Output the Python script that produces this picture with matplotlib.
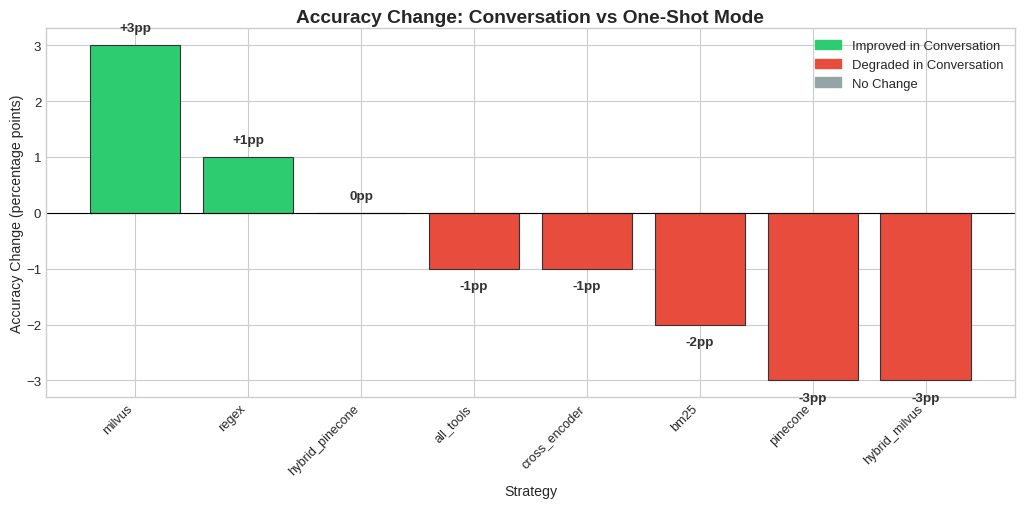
import matplotlib.pyplot as plt
from matplotlib.patches import Patch

strategies = ['milvus', 'regex', 'hybrid_pinecone', 'all_tools', 'cross_encoder',
              'bm25', 'pinecone', 'hybrid_milvus']
changes = [3, 1, 0, -1, -1, -2, -3, -3]

GREEN = '#2ecc71'
RED = '#e74c3c'
GREY = '#95a5a6'

plt.style.use('seaborn-v0_8-whitegrid')
plt.rcParams['font.family'] = ['Liberation Sans', 'DejaVu Sans']

colors = [GREEN if c > 0 else RED if c < 0 else GREY for c in changes]

fig, ax = plt.subplots(figsize=(10.24, 5.06), dpi=100)
bars = ax.bar(range(len(strategies)), changes, color=colors,
              edgecolor='#333333', linewidth=0.8)
ax.axhline(0, color='black', linewidth=0.8)

# value labels
for i, c in enumerate(changes):
    label = '{:+d}pp'.format(c) if c != 0 else '0pp'
    if c >= 0:
        ax.text(i, c + 0.2, label, ha='center', va='bottom',
                fontsize=9.7, fontweight='bold', color='#333333')
    else:
        ax.text(i, c - 0.2, label, ha='center', va='top',
                fontsize=9.7, fontweight='bold', color='#333333')

ax.set_xticks(range(len(strategies)))
ax.set_xticklabels(strategies, rotation=45, ha='right', fontsize=9.2)
ax.tick_params(axis='y', labelsize=9.5)
ax.set_xlabel('Strategy', fontsize=10.2, labelpad=5)
ax.set_ylabel('Accuracy Change (percentage points)', fontsize=10.2,
              labelpad=1.5)
ax.set_title('Accuracy Change: Conversation vs One-Shot Mode',
             fontsize=13.8, fontweight='bold', pad=4.5)

handles = [Patch(color=GREEN, label='Improved in Conversation'),
           Patch(color=RED, label='Degraded in Conversation'),
           Patch(color=GREY, label='No Change')]
ax.legend(handles=handles, loc='upper right', fontsize=9.4)

for s in ax.spines.values():
    s.set_visible(True)
    s.set_color('#cccccc')

plt.subplots_adjust(left=0.045, right=0.991, top=0.942, bottom=0.213)
plt.savefig('out.png', dpi=100)
